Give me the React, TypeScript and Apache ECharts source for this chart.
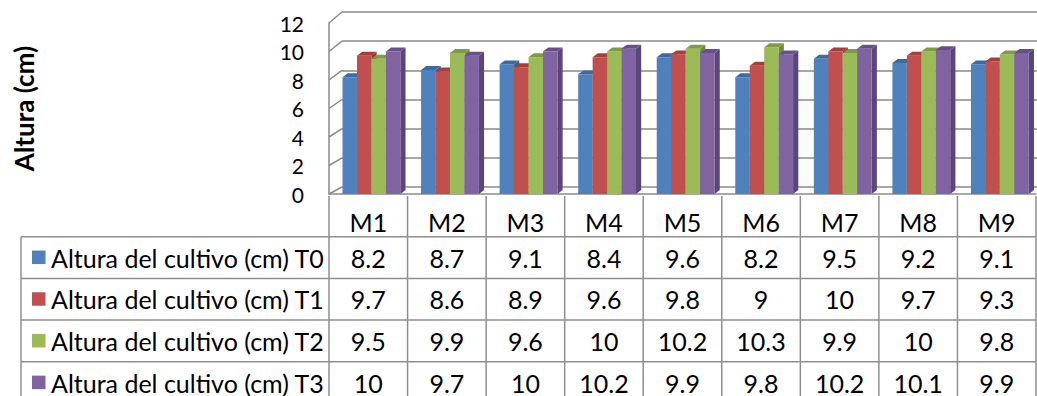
import { useEffect, useRef } from "react";
import * as echarts from "echarts";

// Muestreos y alturas del cultivo (cm) por tratamiento
const categories = ["M1", "M2", "M3", "M4", "M5", "M6", "M7", "M8", "M9"];
const seriesNames = [
  "Altura del cultivo (cm) T0",
  "Altura del cultivo (cm) T1",
  "Altura del cultivo (cm) T2",
  "Altura del cultivo (cm) T3",
];
const alturaT0 = [8.2, 8.7, 9.1, 8.4, 9.6, 8.2, 9.5, 9.2, 9.1];
const alturaT1 = [9.7, 8.6, 8.9, 9.6, 9.8, 9, 10, 9.7, 9.3];
const alturaT2 = [9.5, 9.9, 9.6, 10, 10.2, 10.3, 9.9, 10, 9.8];
const alturaT3 = [10, 9.7, 10, 10.2, 9.9, 9.8, 10.2, 10.1, 9.9];
const yTicks = [0, 2, 4, 6, 8, 10, 12];
const yAxisTitle = "Altura (cm)";

const seriesValues = [alturaT0, alturaT1, alturaT2, alturaT3];
const faceColors = ["#4F81BD", "#C0504D", "#9BBB59", "#8064A2"];
const topColors = ["#3D6AA2", "#A43F3C", "#7F9C45", "#67508A"];
const sideColors = ["#375D8B", "#8D3835", "#6F893D", "#5A4679"];

const FONT = "Lato, 'Liberation Sans', sans-serif";
const GRID_COLOR = "#8a8a8a";
const TABLE_COLOR = "#8f8f8f";

// Layout of the plot (front plane, back wall) and the data table
const FRONT = { left: 329, top: 23, width: 707, height: 171 };
const BACK = { left: 342, top: 12, width: 760, height: 175 };
const TABLE = { headerTop: 196, firstRow: 236.7, rowH: 41.7, left: 21, headerTextY: 222 };
const TABLE_FONT = 25;

const yMin = yTicks[0];
const yMax = yTicks[yTicks.length - 1];
const yStep = yTicks[1] - yTicks[0];

function makeRenderer(si: number) {
  return (params: any, api: any) => {
    const ci = api.value(0);
    const v = api.value(1);
    const top = api.coord([ci, v]);
    const base = api.coord([ci, 0]);
    const band = api.size([1, 0])[0];
    const bw = band * 0.184;
    const dx = bw * 0.36;
    const dy = bw * 0.27;
    const x0 = top[0] + band * 0.04 + (si - 2) * bw;
    const x1 = x0 + bw;
    const yt = top[1];
    const yb = base[1];
    return {
      type: "group",
      children: [
        {
          type: "polygon",
          shape: { points: [[x1, yt], [x1 + dx, yt - dy], [x1 + dx, yb - dy], [x1, yb]] },
          style: { fill: sideColors[si] },
        },
        {
          type: "rect",
          shape: { x: x0, y: yt, width: bw, height: yb - yt },
          style: { fill: faceColors[si] },
        },
        {
          type: "polygon",
          shape: { points: [[x0, yt], [x1, yt], [x1 + dx, yt - dy], [x0 + dx, yt - dy]] },
          style: { fill: topColors[si] },
        },
      ],
    };
  };
}

function txt(x: number, y: number, text: string, align: string, size = TABLE_FONT) {
  return {
    type: "text",
    x,
    y,
    silent: true,
    style: {
      text,
      font: `${size}px ${FONT}`,
      lineHeight: 22,
      fill: "#000",
      align,
      verticalAlign: "middle",
      textAlign: align,
      textVerticalAlign: "middle",
    },
  };
}

function line(x1: number, y1: number, x2: number, y2: number, stroke: string, lineWidth = 1.5) {
  return {
    type: "line",
    silent: true,
    shape: { x1, y1, x2, y2 },
    style: { stroke, lineWidth },
  };
}

export default function App() {
  const ref = useRef<HTMLDivElement>(null);

  useEffect(() => {
    if (!ref.current) return;
    const chart = echarts.init(ref.current, null, { renderer: "svg" });

    chart.setOption({
      animation: false,
      backgroundColor: "#fff",
      grid: [
        { ...FRONT, containLabel: false, outerBoundsMode: "none" },
        { ...BACK, containLabel: false, outerBoundsMode: "none" },
      ],
      xAxis: [
        {
          type: "category",
          gridIndex: 0,
          data: categories,
          boundaryGap: true,
          axisLine: { show: true, lineStyle: { color: GRID_COLOR, width: 1.5 } },
          axisTick: { show: false },
          axisLabel: { show: false },
        },
        {
          type: "category",
          gridIndex: 1,
          data: categories,
          show: false,
        },
      ],
      yAxis: [
        {
          type: "value",
          gridIndex: 0,
          min: yMin,
          max: yMax,
          interval: yStep,
          name: yAxisTitle,
          nameLocation: "middle",
          nameRotate: 90,
          nameGap: 292,
          nameTextStyle: { fontFamily: FONT, fontSize: 26, fontWeight: "bold", color: "#000" },
          axisLine: { show: true, lineStyle: { color: GRID_COLOR, width: 1.5 } },
          axisTick: { show: false },
          splitLine: { show: false },
          axisLabel: {
            margin: 25,
            fontFamily: FONT,
            fontSize: 21,
            color: "#000",
            padding: [4, 0, 0, 0],
          },
        },
        {
          type: "value",
          gridIndex: 1,
          min: yMin,
          max: yMax,
          interval: yStep,
          axisLine: { show: false },
          axisTick: { show: false },
          axisLabel: { show: false },
          splitLine: { show: true, lineStyle: { color: GRID_COLOR, width: 1.5 } },
        },
      ],
      series: seriesValues.map((vals, si) => ({
        type: "custom",
        name: seriesNames[si],
        xAxisIndex: 0,
        yAxisIndex: 0,
        renderItem: makeRenderer(si),
        encode: { x: 0, y: 1 },
        data: vals.map((v, i) => [i, v]),
        z: 5,
      })),
    });

    // Left side wall, data table and legend keys, positioned from the axes
    const elements: any[] = [];
    yTicks.forEach((t) => {
      const yf = chart.convertToPixel({ yAxisIndex: 0 }, t) as number;
      const yb = chart.convertToPixel({ yAxisIndex: 1 }, t) as number;
      elements.push(line(FRONT.left, yf, BACK.left, yb, GRID_COLOR));
    });

    const centers = categories.map((_, i) => chart.convertToPixel({ xAxisIndex: 0 }, i) as number);
    const band = centers[1] - centers[0];
    const bounds = [centers[0] - band / 2, ...centers.map((c) => c + band / 2)];
    const tableBottom = TABLE.firstRow + TABLE.rowH * seriesNames.length;

    // vertical borders of value columns
    bounds.forEach((x) => elements.push(line(x, TABLE.headerTop, x, tableBottom, TABLE_COLOR)));
    // left border of legend column
    elements.push(line(TABLE.left, TABLE.firstRow, TABLE.left, tableBottom, TABLE_COLOR));
    // horizontal row borders
    for (let r = 0; r <= seriesNames.length; r++) {
      const y = TABLE.firstRow + r * TABLE.rowH;
      elements.push(line(TABLE.left, y, bounds[bounds.length - 1], y, TABLE_COLOR));
    }
    // header
    categories.forEach((c, i) => elements.push(txt(centers[i], TABLE.headerTextY, c, "center")));
    // rows
    seriesNames.forEach((name, si) => {
      const yc = TABLE.firstRow + (si + 0.5) * TABLE.rowH;
      elements.push({
        type: "rect",
        silent: true,
        shape: { x: TABLE.left + 11, y: yc - 7, width: 13.5, height: 13.5 },
        style: { fill: faceColors[si] },
      });
      elements.push(txt(TABLE.left + 30, yc, name, "left"));
      seriesValues[si].forEach((v, i) => elements.push(txt(centers[i], yc, String(v), "center")));
    });

    chart.setOption({ graphic: { elements } });

    return () => chart.dispose();
  }, []);

  return (
    <div
      ref={ref}
      style={{ position: "absolute", left: 0, top: 0, width: 1037, height: 396 }}
    />
  );
}
